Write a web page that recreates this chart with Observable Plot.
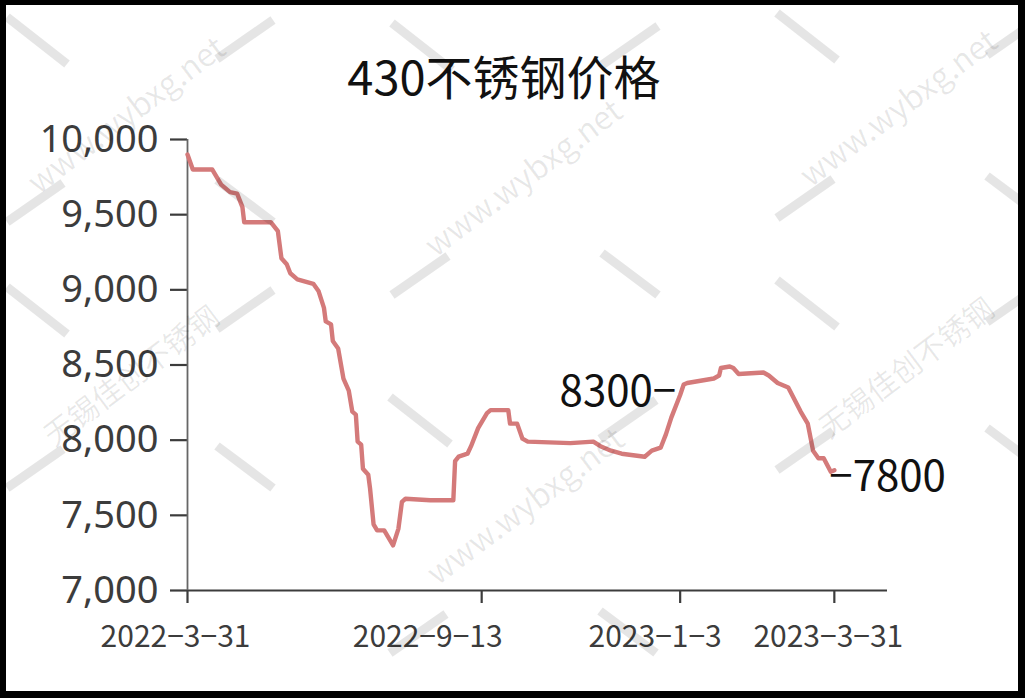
<!DOCTYPE html>
<html>
<head>
<meta charset="utf-8">
<script src="https://cdn.jsdelivr.net/npm/d3@7"></script>
<script src="https://cdn.jsdelivr.net/npm/@observablehq/plot@0.6"></script>
<style>
  html, body { margin: 0; padding: 0; background: #fff; }
  #wrap { position: relative; width: 1025px; height: 698px; overflow: hidden; background: #fff; }
  #title { position: absolute; left: 0; top: 46px; width: 1008px; text-align: center;
           font-family: "Noto Sans CJK SC", "Noto Sans", sans-serif; font-size: 47px; line-height: 58px; color: #111; }
  #chart { position: absolute; left: 0; top: 0; }
  #wm { position: absolute; left: 0; top: 0; pointer-events: none; }
  #frame { position: absolute; left: 0; top: 0; width: 1025px; height: 698px; box-sizing: border-box;
           border-style: solid; border-color: #000; border-width: 5px 7px 7px 6px; pointer-events: none; }
</style>
</head>
<body>
<div id="wrap">
  <div id="chart"></div>
  <div id="title">430不锈钢价格</div>
  <svg id="wm" width="1025" height="698"></svg>
  <div id="frame"></div>
</div>
<script>
// ---- data ----
const dates = [
  "2022-03-31","2022-04-03","2022-04-14","2022-04-19","2022-04-24","2022-04-28","2022-05-01","2022-05-02",
  "2022-05-17","2022-05-21","2022-05-23","2022-05-26","2022-05-28","2022-06-01","2022-06-10","2022-06-13",
  "2022-06-16","2022-06-17","2022-06-20","2022-06-21","2022-06-24","2022-06-27","2022-06-30","2022-07-02",
  "2022-07-04","2022-07-05","2022-07-07","2022-07-08","2022-07-11","2022-07-12","2022-07-14","2022-07-16",
  "2022-07-20","2022-07-25","2022-07-28","2022-07-30","2022-08-01","2022-08-15","2022-08-28","2022-08-29",
  "2022-08-31","2022-09-05","2022-09-07","2022-09-11","2022-09-16","2022-09-18","2022-09-28","2022-09-29",
  "2022-10-03","2022-10-06","2022-10-09","2022-11-02","2022-11-15","2022-11-19","2022-11-25","2022-12-01",
  "2022-12-14","2022-12-18","2022-12-23","2022-12-26","2022-12-29","2023-01-03","2023-01-05","2023-01-07",
  "2023-01-22","2023-01-25","2023-01-26","2023-01-31","2023-02-02","2023-02-05","2023-02-19","2023-02-22",
  "2023-02-27","2023-03-05","2023-03-12","2023-03-16","2023-03-19","2023-03-22","2023-03-25","2023-03-29",
  "2023-03-31"
];
const prices = [
  9900, 9800, 9800, 9700, 9650, 9640, 9550, 9450,
  9450, 9390, 9210, 9170, 9110, 9070, 9040, 8990,
  8880, 8790, 8770, 8660, 8610, 8410, 8330, 8190,
  8170, 7990, 7970, 7810, 7770, 7680, 7440, 7400,
  7400, 7300, 7410, 7590, 7610, 7600, 7600, 7860,
  7890, 7910, 7960, 8080, 8180, 8200, 8200, 8110,
  8110, 8010, 7990, 7980, 7990, 7960, 7930, 7910,
  7890, 7930, 7950, 8040, 8150, 8300, 8370, 8380,
  8410, 8430, 8480, 8490, 8480, 8440, 8450, 8430,
  8380, 8350, 8190, 8110, 7930, 7880, 7880, 7790,
  7800
];
const yTicks = [7000, 7500, 8000, 8500, 9000, 9500, 10000];
const xTickDates = ["2022-03-31", "2022-09-13", "2023-01-03", "2023-03-31"];
const labelDates = ["2023-01-03", "2023-03-31"];
const labelValues = [8300, 7800];
const labelTexts = ["8300−", "−7800"];
const labelAnchors = ["end", "start"];
const xDomain = ["2022-03-31", "2023-04-30"];
const yDomain = [7000, 10000];

// style: horizontal shift of each x tick label (px), as drawn in the reference
const xLabelShift = [-12, -54, -25, -6];

const data = dates.map((d, i) => ({date: new Date(d), price: prices[i]}));
const labels = labelDates.map((d, i) => ({date: new Date(d), value: labelValues[i], text: labelTexts[i], anchor: labelAnchors[i]}));
const fmtDate = d => `${d.getUTCFullYear()}−${d.getUTCMonth() + 1}−${d.getUTCDate()}`;

const axisColor = "#3c3c3c";
const xTickMarks = Plot.axisX({ticks: xTickDates.map(d => new Date(d)), tickFormat: () => "", tickSize: 13,
  strokeWidth: 2.2, label: null});
const xLabelMarks = xTickDates.map((d, i) =>
  Plot.axisX({ticks: [new Date(d)], tickFormat: fmtDate, tickSize: 0, tickPadding: 35, dx: xLabelShift[i],
    fontSize: 30, fontFamily: "'Noto Sans CJK SC', 'Noto Sans', sans-serif", label: null}));

const chart = Plot.plot({
  width: 1025,
  height: 698,
  marginTop: 139,
  marginBottom: 108,
  marginLeft: 187,
  marginRight: 138,
  style: {background: "transparent", color: axisColor, overflow: "visible"},
  x: {type: "utc", domain: xDomain.map(d => new Date(d))},
  y: {domain: yDomain},
  marks: [
    Plot.axisY({ticks: yTicks, tickFormat: d3.format(","), tickSize: 17, tickPadding: 12,
      fontSize: 38, fontFamily: "'Noto Sans', 'Open Sans', sans-serif", strokeWidth: 2.2, label: null}),
    xTickMarks,
    ...xLabelMarks,
    Plot.ruleY([yDomain[0]], {stroke: axisColor, strokeWidth: 2.2}),
    Plot.ruleX([new Date(xDomain[0])], {stroke: "#666", strokeWidth: 1.8}),
    Plot.line(data, {x: "date", y: "price", stroke: "#d47a7a", strokeWidth: 4.4, strokeLinejoin: "round", strokeLinecap: "round"}),
    Plot.text(labels.filter(l => l.anchor === "end"), {x: "date", y: "value", text: "text", textAnchor: "end",
      dx: -4, dy: -3, fontSize: 42, fill: "#111", fontFamily: "'Noto Sans CJK SC', sans-serif"}),
    Plot.text(labels.filter(l => l.anchor === "start"), {x: "date", y: "value", text: "text", textAnchor: "start",
      dx: -5, dy: 7, fontSize: 42, fill: "#111", fontFamily: "'Noto Sans CJK SC', sans-serif"})
  ]
});
document.getElementById("chart").appendChild(chart);

// ---- faint watermark (decoration only): [x0, y0, height, textCx, textCy, text] ----
const wm = d3.select("#wm");
const tiles = [
  [7, 17, 205, 128, 117, "www.wybxg.net"],
  [7, 287, 201, 133, 378, "无锡佳创不锈钢"],
  [392, 23, 272, 525, 180, "www.wybxg.net"],
  [390, 397, 256, 527, 508, "www.wybxg.net"],
  [777, 13, 205, 900, 110, "www.wybxg.net"],
  [777, 280, 190, 908, 370, "无锡佳创不锈钢"]
];
tiles.forEach(([x0, y0, h, tx, ty, t]) => {
  const g = wm.append("g").attr("transform", `translate(${x0},${y0})`)
    .attr("stroke", "#000").attr("stroke-opacity", 0.1).attr("stroke-width", 9);
  [[0, 0, 60, 47], [210, 42, 266, 3], [0, h, 56, h - 39], [210, h - 42, 266, h]].forEach(s =>
    g.append("line").attr("x1", s[0]).attr("y1", s[1]).attr("x2", s[2]).attr("y2", s[3]));
  wm.append("text").attr("fill", "#000").attr("fill-opacity", 0.09)
    .attr("transform", `translate(${tx},${ty}) rotate(-37)`).attr("text-anchor", "middle").attr("dominant-baseline", "middle")
    .attr("font-family", "'Noto Sans CJK SC', sans-serif").attr("font-size", t.startsWith("www") ? 32 : 30)
    .text(t);
});
</script>
</body>
</html>
